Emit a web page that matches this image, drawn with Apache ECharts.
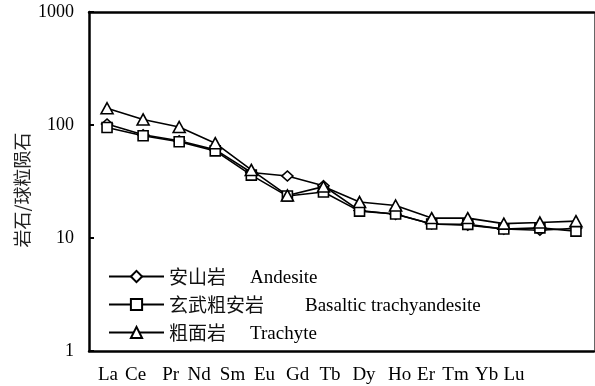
<!DOCTYPE html>
<html>
<head>
<meta charset="utf-8">
<script src="https://cdn.jsdelivr.net/npm/echarts@6/dist/echarts.min.js"></script>
<style>
html,body{margin:0;padding:0;background:#fff;}
#c{width:595px;height:386px;}
</style>
</head>
<body>
<div id="c"></div>
<script>
const categories = ['La','Ce','Pr','Nd','Sm','Eu','Gd','Tb','Dy','Ho','Er','Tm','Yb','Lu'];
const andesite = [102, 82, 72.5, 60.5, 38, 35.4, 29, 17.5, 16.2, 13.3, 13, 12, 11.7, 12.2];
const basaltic = [95, 80.4, 71, 59, 36, 23.5, 25.5, 17.3, 16.3, 13.3, 13.2, 12.0, 12.3, 11.5];
const trachyte = [140.6, 112, 96, 69, 40, 23.8, 28.5, 20.8, 19.4, 15.0, 15.0, 13.4, 13.7, 14.1];
const seriesNames = ['安山岩  Andesite', '玄武粗安岩  Basaltic trachyandesite', '粗面岩  Trachyte'];
const yAxisName = '岩石/球粒陨石';

// label placement style (visual shift of the category labels, in px)
const labelShift = [1, -7.6, -8.6, -16.2, -18.8, -22.9, -25.9, -29.5, -31.6, -32.1, -41.7, -48.3, -53.3, -61.9];
const LAT = "'Liberation Serif', 'Times New Roman', serif";
const CJK = "'Noto Sans CJK SC', sans-serif";

const xRich = {};
labelShift.forEach((s, i) => {
  xRich['s' + i] = {
    fontFamily: LAT, fontSize: 19, color: '#000',
    padding: s < 0 ? [0, -2 * s, 0, 0] : [0, 0, 0, 2 * s]
  };
});

const chart = echarts.init(document.getElementById('c'), null, {renderer: 'canvas'});
const seriesData = [andesite, basaltic, trachyte];
const symbols = ['diamond', 'rect', 'triangle'];
const symbolSizes = [[11, 10], 10, [12, 11]];

const enStyle = (pad) => ({fontFamily: LAT, fontSize: 19, color: '#000', padding: [4, 0, 0, pad], lineHeight: 20, verticalAlign: 'middle'});

chart.setOption({
  animation: false,
  backgroundColor: '#fff',
  grid: {left: 89, right: 1, top: 12, bottom: 35, containLabel: false, outerBoundsMode: 'none'},
  legend: {
    orient: 'vertical',
    left: 108,
    top: 265,
    padding: 0,
    itemWidth: 55,
    itemHeight: 14,
    itemGap: 5,
    data: seriesNames,
    formatter: function (name) {
      const i = seriesNames.indexOf(name);
      const parts = name.split('  ');
      return '{cn|' + parts[0] + '}{en' + i + '|' + parts[1] + '}';
    },
    textStyle: {
      rich: {
        cn: {fontFamily: CJK, fontSize: 19, color: '#111', lineHeight: 20, verticalAlign: 'middle'},
        en0: enStyle(24),
        en1: enStyle(41),
        en2: enStyle(24)
      }
    }
  },
  xAxis: [{
    type: 'category',
    data: categories,
    boundaryGap: true,
    axisLine: {lineStyle: {color: '#000', width: 2.5}},
    axisTick: {inside: true, alignWithLabel: true, length: 5, lineStyle: {color: '#000', width: 2}},
    axisLabel: {
      interval: 0,
      margin: 15,
      formatter: function (v, i) { return '{s' + i + '|' + v + '}'; },
      rich: xRich
    },
    splitLine: {show: false}
  }, {
    type: 'category',
    data: categories,
    position: 'top',
    axisLine: {lineStyle: {color: '#000', width: 2.5}},
    axisTick: {show: false},
    axisLabel: {show: false},
    splitLine: {show: false}
  }],
  yAxis: [{
    type: 'log',
    logBase: 10,
    min: 1,
    max: 1000,
    name: yAxisName,
    nameLocation: 'middle',
    nameGap: 58,
    nameMoveOverlap: false,
    nameTextStyle: {fontFamily: CJK, fontSize: 18, color: '#222', padding: [0, 17, 0, 0]},
    axisLine: {show: true, lineStyle: {color: '#000', width: 2.5}},
    axisTick: {show: true, inside: true, length: 5, lineStyle: {color: '#000', width: 2}},
    axisLabel: {margin: 15, fontFamily: LAT, fontSize: 18, color: '#000',
      formatter: function (v) { return String(Math.round(v)); }},
    splitLine: {show: false},
    minorTick: {show: false}
  }, {
    type: 'log',
    logBase: 10,
    min: 1,
    max: 1000,
    position: 'right',
    axisLine: {show: true, lineStyle: {color: '#666', width: 1}},
    axisTick: {show: false},
    axisLabel: {show: false},
    splitLine: {show: false}
  }],
  series: seriesNames.map((n, k) => ({
    name: n,
    type: 'line',
    data: seriesData[k],
    symbol: symbols[k],
    symbolSize: symbolSizes[k],
    showAllSymbol: true,
    lineStyle: {color: '#000', width: 1.6},
    itemStyle: {color: '#fff', borderColor: '#000', borderWidth: 1.6},
    emphasis: {disabled: true}
  }))
});
</script>
</body>
</html>
